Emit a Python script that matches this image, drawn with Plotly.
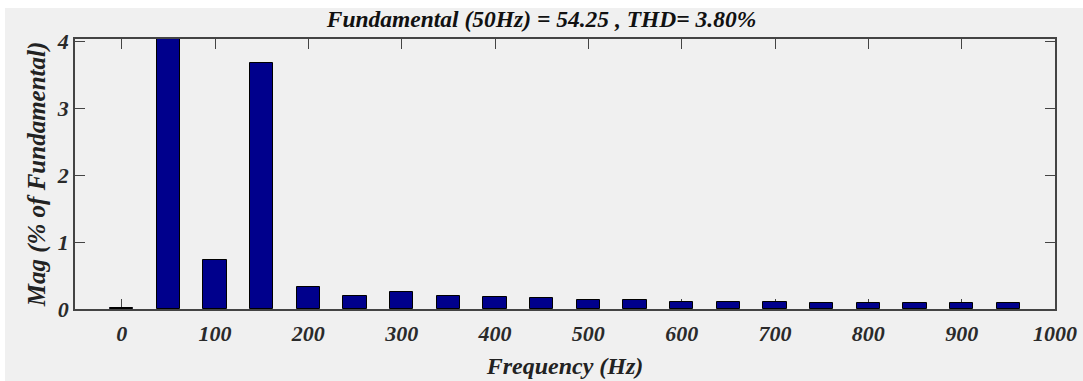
import plotly.graph_objects as go

freqs = [0, 50, 100, 150, 200, 250, 300, 350, 400, 450, 500, 550, 600, 650, 700, 750, 800, 850, 900, 950]
mags = [0.02, 100.0, 0.73, 3.67, 0.33, 0.20, 0.26, 0.20, 0.18, 0.16, 0.13, 0.13, 0.11, 0.11, 0.11, 0.09, 0.09, 0.09, 0.09, 0.09]
x_ticks = [0, 100, 200, 300, 400, 500, 600, 700, 800, 900, 1000]
y_ticks = [0, 1, 2, 3, 4]
title_text = "Fundamental (50Hz) = 54.25 , THD= 3.80%"

FONT = "Liberation Serif"
fig = go.Figure()
fig.add_trace(go.Bar(x=freqs, y=mags, width=25,
                     marker=dict(color="#00008C", line=dict(color="black", width=1))))

W, H = 1083, 381
L, R, T, B = 75, 28, 39, 72
pw, ph = W - L - R, H - T - B

def px_to_paper_x(px):
    return (px - L) / pw

def px_to_paper_y(py):
    return (H - B - py) / ph

fig.add_shape(type="rect", xref="paper", yref="paper",
              x0=px_to_paper_x(5), x1=px_to_paper_x(W + 2),
              y0=px_to_paper_y(H + 2), y1=px_to_paper_y(8),
              fillcolor="#F0F0F0", line=dict(width=0), layer="below")

axis_common = dict(showgrid=False, zeroline=False, showline=True, linecolor="#444444", linewidth=1.5,
                   ticks="inside", ticklen=10, tickcolor="#444444", tickwidth=1, mirror="ticks",
                   layer="below traces", automargin=False,
                   tickfont=dict(family=FONT, size=22, color="#2a2a2a"))

fig.update_xaxes(range=[-50, 1000], tickvals=x_ticks, ticktext=[f"<b><i>{v}</i></b>" for v in x_ticks],
                 ticklabelstandoff=4,
                 title=dict(text="<b><i>Frequency (Hz)</i></b>", font=dict(family=FONT, size=24, color="#222222"), standoff=12),
                 **axis_common)
fig.update_yaxes(range=[0, 4.03], tickvals=y_ticks, ticktext=[f"<b><i>{v}</i></b>" for v in y_ticks],
                 title=dict(text="<b><i>Mag (% of Fundamental)</i></b>", font=dict(family=FONT, size=25, color="#222222"), standoff=4),
                 **axis_common)

fig.update_layout(
    width=W, height=H,
    margin=dict(l=L, r=R, t=T, b=B),
    paper_bgcolor="white", plot_bgcolor="white",
    showlegend=False, bargap=0,
    title=dict(text=f"<b><i>{title_text}</i></b>", x=0.5, xanchor="center", y=1 - 19 / H, yanchor="middle",
               font=dict(family=FONT, size=23.5, color="#111111")),
)

fig.write_html("out.html")
